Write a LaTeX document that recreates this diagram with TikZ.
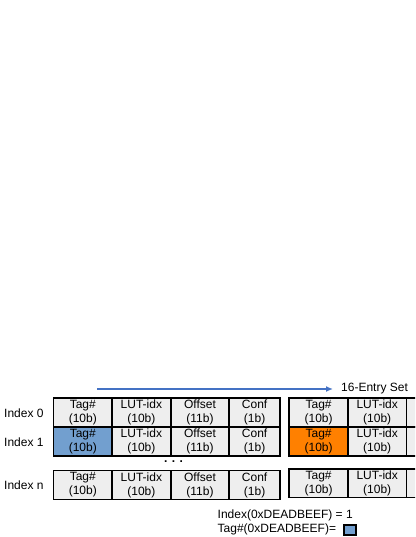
\documentclass[tikz,border=0pt]{standalone}
\usepackage{fontspec}
\setmainfont{Liberation Sans}
\usepackage{tikz}
\usetikzlibrary{arrows.meta,positioning}
\definecolor{cellgray}{RGB}{238,238,238}
\definecolor{tagblue}{RGB}{114,159,207}
\definecolor{tagorange}{RGB}{255,128,0}
\definecolor{arrowblue}{RGB}{68,114,196}

\begin{document}
\begin{tikzpicture}[
        x=1pt, y=-1pt,
        every node/.style={font=\fontsize{12}{14}\selectfont},
        cell/.style={draw, line width=1.9pt, fill=cellgray, minimum height=29pt, inner sep=0pt, outer sep=0pt, align=center},
        wide/.style={cell, minimum width=58.6pt},
        narrow/.style={cell, minimum width=50.6pt},
        rowlabel/.style={anchor=west, inner sep=0pt},
        setarrow/.style={-{Latex[length=7pt, width=6pt]}, line width=1.5pt, draw=arrowblue, shorten >=8pt},
        swatch/.style={draw, line width=1.9pt, fill=tagblue, minimum width=12pt, minimum height=10pt, inner sep=0pt}
      ]
      \useasboundingbox (0,0) rectangle (415,537);
      \clip (0,0) rectangle (415,537);

      % set header
      \coordinate (arrstart) at (97,389);
      \node[anchor=west, inner sep=0pt] (setlbl) at (341,389) {16-Entry Set};
      \draw[setarrow] (arrstart) -- (setlbl.west);

      % row labels
      \node[rowlabel] (idx0) at (4,413) {Index 0};
      \node[rowlabel] (idx1) at (4,442) {Index 1};
      \node[rowlabel] (idxn) at (4,485) {Index n};

      % first set
      \node[wide, anchor=north west] (tag0) at (53.5,398.3) {Tag\#\\(10b)};
      \node[wide, right=0pt of tag0] (lut0) {LUT-idx\\(10b)};
      \node[wide, right=0pt of lut0] (off0) {Offset\\(11b)};
      \node[narrow, right=0pt of off0] (conf0) {Conf\\(1b)};

      \node[wide, fill=tagblue, below=0pt of tag0] (tag1) {Tag\#\\(10b)};
      \node[wide, right=0pt of tag1] (lut1) {LUT-idx\\(10b)};
      \node[wide, right=0pt of lut1] (off1) {Offset\\(11b)};
      \node[narrow, right=0pt of off1] (conf1) {Conf\\(1b)};

      \node[font=\fontsize{12}{14}\selectfont\bfseries] (dots) at (173.5,462) {. . .};

      \node[wide, anchor=north west] (tagn) at (53.5,470.5) {Tag\#\\(10b)};
      \node[wide, right=0pt of tagn] (lutn) {LUT-idx\\(10b)};
      \node[wide, right=0pt of lutn] (offn) {Offset\\(11b)};
      \node[narrow, right=0pt of offn] (confn) {Conf\\(1b)};

      % second set, cut off at the right
      \node[wide, anchor=north west] (tag0s) at (289.3,398.3) {Tag\#\\(10b)};
      \node[wide, right=0pt of tag0s] (lut0s) {LUT-idx\\(10b)};
      \node[wide, right=0pt of lut0s] (off0s) {};

      \node[wide, fill=tagorange, below=0pt of tag0s] (tag1s) {Tag\#\\(10b)};
      \node[wide, right=0pt of tag1s] (lut1s) {LUT-idx\\(10b)};
      \node[wide, right=0pt of lut1s] (off1s) {};

      \node[wide, minimum height=28.5pt, anchor=north west] (tagns) at (289.3,469) {Tag\#\\(10b)};
      \node[wide, minimum height=28.5pt, right=0pt of tagns] (lutns) {LUT-idx\\(10b)};
      \node[wide, minimum height=28.5pt, right=0pt of lutns] (offns) {};

      % lookup result
      \node[anchor=base west, inner sep=0pt] (idxeq) at (217.5,518.7) {Index(0xDEADBEEF) = 1};
      \node[anchor=base west, inner sep=0pt] (tageq) at (217.5,532.3) {Tag\#(0xDEADBEEF)=};
      \node[swatch] (tagsw) at (350,529.7) {};
    \end{tikzpicture}
\end{document}
